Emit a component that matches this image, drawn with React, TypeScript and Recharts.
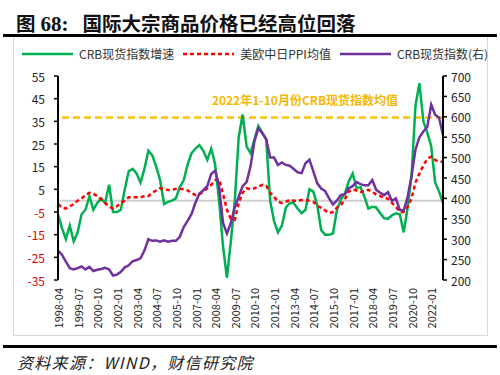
import React from 'react';
import {
  ComposedChart,
  Line,
  XAxis,
  YAxis,
  ReferenceLine,
} from 'recharts';

// quarterly sampling, 1998-04 .. 2022-10
const startYear = 1998;
const startMonth = 4;
const months: string[] = Array.from({ length: 99 }, (_, i) => {
  const m = startMonth - 1 + i * 3;
  const y = startYear + Math.floor(m / 12);
  return `${y}-${String((m % 12) + 1).padStart(2, '0')}`;
});

// CRB现货指数增速 (%), left axis
const crbGrowth = [
  -6, -12, -17, -11, -18, -14, -6, -4, 2, -4, -1, 1, -1, 7, -5, -5, -4, 5, 13, 14, 12, 8, 14, 22, 20,
  15, 9, -1.5, -0.5, 0, 1, 6, 9, 16, 21, 23, 24.5, 22, 18, 23, 16, 0, -20, -34, -18, 0, 28, 38, 24,
  21, 27, 33, 30, 27, 0, -9, -14, -11, -3, -1, -1, -3.5, -5.5, -4, 5, 4, -2, -13, -15, -15, -14.5, -4,
  0.5, 3, 8.5, 12, 5.5, 6, 1.8, -3.5, -2.7, -3, -5.5, -7.7, -8, -6.5, -5.6, -6, -14, -3, 11, 42, 51.8, 35, 30, 24, 8, 4, -1,
];

// 美欧中日PPI均值 (%), left axis
const ppiAvg = [
  -1.5, -3, -3.5, -2.5, -1.5, 0, 1, 2.5, 3.5, 3, 2, 0.5, -1, -2.5, -3.5, -2.5, -1, 0, 1.5, 1.5, 1.5, 1.5, 2, 2, 3.5,
  4.5, 5.5, 5, 4.7, 4.8, 5.2, 5.3, 5, 4.5, 3.3, 2.5, 2.8, 4, 5.5, 7, 9, 9.5, 3, -4, -8, -8.5, -1, 3.5, 5.5,
  5, 5.5, 6.2, 7, 6.5, 3.5, 1.7, -0.5, -1, -0.5, 0.4, 0, 0, 0.3, 0.3, 0, -0.5, -2.3, -3.2, -4.3, -5.5, -5, -3,
  -2, 0.5, 4, 5, 4.5, 3.8, 4.2, 4.8, 4, 2.7, 2, 1.5, 0.8, -1, -2.7, -5, -5, -2.7, 1, 8, 12, 15.5, 18.5, 19.4, 18, 17.2, 17.2,
];

// CRB现货指数, right axis
const crbIndex = [
  272, 262, 245, 229, 226, 229, 233, 226, 232, 222, 225, 227, 230, 226, 211, 213, 220, 231, 236, 246, 249, 253, 272, 300, 296,
  297, 294, 297, 294, 296, 296, 306, 330, 345, 362, 390, 412, 420, 430, 460, 468, 430, 340, 314, 340, 378, 404, 430, 440,
  478, 540, 572, 560, 545, 500, 500, 482, 488, 482, 480, 472, 464, 462, 486, 495, 466, 437, 424, 418, 400, 385, 395,
  408, 410, 425, 430, 440, 435, 432, 432, 445, 421, 414, 408, 415, 394, 400, 372, 370, 404, 455, 520, 550, 564, 575, 630, 605, 598, 555,
];

// 2022年1-10月份CRB现货指数均值
const crbAvg2022 = 598;

const leftTicks = [-35, -25, -15, -5, 5, 15, 25, 35, 45, 55];
const rightTicks = [200, 250, 300, 350, 400, 450, 500, 550, 600, 650, 700];

const data = months.map((month, i) => ({
  month,
  growth: crbGrowth[i],
  ppi: ppiAvg[i],
  index: crbIndex[i],
}));

const FONT = '"Noto Sans CJK SC", "Noto Sans", sans-serif';

const LeftTick = ({ x, y, payload }: any) => (
  <text x={x} y={y} textAnchor="end" dominantBaseline="central" fontSize={12} fontFamily={FONT}
    fill={payload.value < 0 ? '#e00000' : '#222'}>
    {payload.value}
  </text>
);

const RightTick = ({ x, y, payload }: any) => (
  <text x={x} y={y} textAnchor="start" dominantBaseline="central" fontSize={12} fontFamily={FONT} fill="#222">
    {payload.value}
  </text>
);

const DateTick = ({ x, payload }: any) => (
  <text x={x} y={288} transform={`rotate(-90, ${x}, 288)`} textAnchor="end" dominantBaseline="central"
    fontSize={11} fontFamily={FONT} fill="#222">
    {payload.value}
  </text>
);

const legendItems = [
  { name: 'CRB现货指数增速', color: '#00b050', dashed: false },
  { name: '美欧中日PPI均值', color: '#ff0000', dashed: true },
  { name: 'CRB现货指数(右)', color: '#7030a0', dashed: false },
];

export default function App() {
  return (
    <div style={{ position: 'absolute', left: 0, top: 0, width: 500, height: 375, background: '#fff', overflow: 'hidden' }}>
      <div style={{ position: 'absolute', left: 16, top: 8, fontFamily: FONT, fontWeight: 700, fontSize: 19.5, color: '#111', whiteSpace: 'nowrap', display: 'flex', alignItems: 'baseline' }}>
        <span>图</span>
        <span style={{ fontFamily: '"Liberation Serif", serif', fontSize: 21, marginLeft: 5 }}>68:</span>
        <span style={{ marginLeft: 14 }}>国际大宗商品价格已经高位回落</span>
      </div>
      <div style={{ position: 'absolute', left: 3, top: 34, width: 494, height: 3, background: '#000' }} />
      <div style={{ position: 'absolute', left: 13, top: 37, width: 473, height: 298, border: '1px solid #d9d9d9', borderTop: 'none' }} />

      <div style={{ position: 'absolute', left: 22, top: 45, display: 'flex', alignItems: 'center', fontFamily: FONT, fontSize: 12, color: '#333', whiteSpace: 'nowrap' }}>
        {legendItems.map((item, i) => (
          <div key={item.name} style={{ display: 'flex', alignItems: 'center', marginRight: i < 2 ? 9 : 0 }}>
            <svg width={51} height={6} style={{ marginRight: 6 }}>
              <line x1={0} y1={3} x2={51} y2={3} stroke={item.color} strokeWidth={2.5}
                strokeDasharray={item.dashed ? '4 3' : undefined} />
            </svg>
            <span>{item.name}</span>
          </div>
        ))}
      </div>

      <div style={{ position: 'absolute', left: 0, top: 0 }}>
        <ComposedChart width={500} height={375} data={data} margin={{ top: 76, right: 0, bottom: 0, left: 0 }}>
          <XAxis dataKey="month" interval={4} axisLine={false} tickLine={false} height={95} tick={<DateTick />} />
          <YAxis yAxisId="left" domain={[-35, 55]} ticks={leftTicks} width={58} interval={0}
            axisLine={{ stroke: '#000', strokeWidth: 2 }} tickLine={{ stroke: '#000', strokeWidth: 1.5 }}
            tickSize={4} tickMargin={9} tick={<LeftTick />} />
          <YAxis yAxisId="right" orientation="right" domain={[200, 700]} ticks={rightTicks} width={57} interval={0}
            axisLine={{ stroke: '#000', strokeWidth: 2 }} tickLine={{ stroke: '#000', strokeWidth: 1.5 }}
            tickSize={4} tickMargin={4} tick={<RightTick />} />
          <ReferenceLine yAxisId="left" y={0} stroke="#d0d0d0" strokeWidth={2} />
          <ReferenceLine yAxisId="right" y={crbAvg2022} stroke="#ffc000" strokeWidth={2.5} strokeDasharray="7 4"
            label={({ viewBox }: any) => (
              <text x={viewBox.x + 247} y={viewBox.y - 13} textAnchor="middle" fontSize={12} fontWeight={700}
                fontFamily={FONT} fill="#f5b800">
                2022年1-10月份CRB现货指数均值
              </text>
            )} />
          <Line yAxisId="left" dataKey="growth" stroke="#00b050" strokeWidth={2.5} dot={false} isAnimationActive={false} />
          <Line yAxisId="left" dataKey="ppi" stroke="#ff0000" strokeWidth={2.5} strokeDasharray="4 3" dot={false} isAnimationActive={false} />
          <Line yAxisId="right" dataKey="index" stroke="#7030a0" strokeWidth={2.5} dot={false} isAnimationActive={false} />
        </ComposedChart>
      </div>

      <div style={{ position: 'absolute', left: 3, top: 345, width: 494, height: 3, background: '#000' }} />
      <div style={{ position: 'absolute', left: 17, top: 350, fontFamily: FONT, fontStyle: 'italic', fontSize: 16, letterSpacing: 1.3, color: '#222', whiteSpace: 'nowrap' }}>
        资料来源：WIND，财信研究院
      </div>
    </div>
  );
}
